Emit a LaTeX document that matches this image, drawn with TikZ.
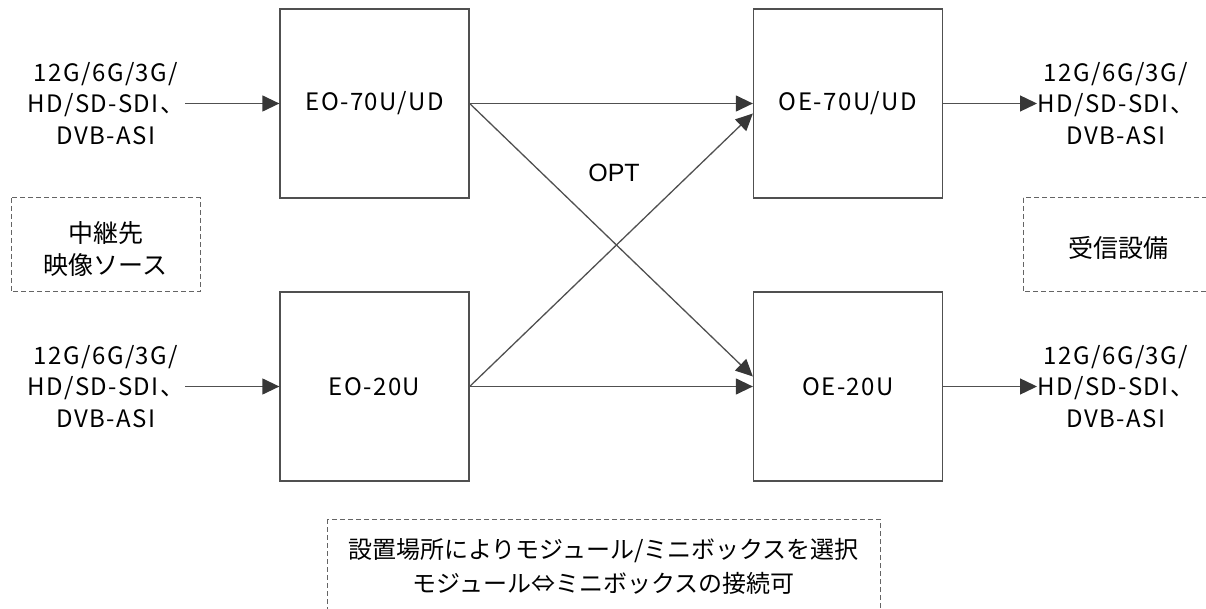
\documentclass[tikz,border=0pt]{standalone}
\usepackage{fontspec}
\setmainfont{Noto Sans CJK JP}
\newfontfamily\latf[LetterSpace=6]{Noto Sans CJK JP}
\newfontfamily\arialf{Liberation Sans}
\usetikzlibrary{arrows.meta,calc}
\definecolor{lc}{RGB}{80,80,80}
\definecolor{ac}{RGB}{55,55,55}
\definecolor{dc}{RGB}{100,100,100}
\tikzset{
 unitbox/.style={draw=lc, line width=1.3pt, minimum width=189pt, minimum height=189pt, inner sep=0pt, font=\latf\fontsize{24}{31.5}\selectfont},
 lbl/.style={align=center, inner sep=0pt, font=\latf\fontsize{24}{31.5}\selectfont},
 jlbl/.style={align=center, inner sep=0pt, font=\fontsize{25}{32}\selectfont},
 dbox/.style={draw=dc, line width=1pt, dash pattern=on 5pt off 3pt},
 arr/.style={draw=lc, line width=1.3pt, -{Triangle[length=17pt,width=16pt,color=ac]}}
}
\begin{document}
\begin{tikzpicture}[x=1pt,y=-1pt]
\useasboundingbox (0,0) rectangle (1206,609);
% units
\node[unitbox] (eo1) at (374.5,103.5) {EO-70U/UD};
\node[unitbox] (eo2) at (374.5,386.5) {EO-20U};
\node[unitbox] (oe1) at (848,103.5) {OE-70U/UD};
\node[unitbox] (oe2) at (848,386.5) {OE-20U};
% signal labels
\node[lbl] (in1) at (106,103.5) {12G/6G/3G/\\HD/SD-SDI、\\DVB-ASI};
\node[lbl] (in2) at (106,386.5) {12G/6G/3G/\\HD/SD-SDI、\\DVB-ASI};
\node[lbl] (out1) at (1116,103.5) {12G/6G/3G/\\HD/SD-SDI、\\DVB-ASI};
\node[lbl] (out2) at (1116,386.5) {12G/6G/3G/\\HD/SD-SDI、\\DVB-ASI};
\coordinate (i1) at (185,103.5);
\coordinate (i2) at (185,386.5);
\coordinate (o1) at (1037,103.5);
\coordinate (o2) at (1037,386.5);
% arrows
\draw[arr] (i1) -- (eo1.west);
\draw[arr] (i2) -- (eo2.west);
\draw[arr] (oe1.east) -- (o1);
\draw[arr] (oe2.east) -- (o2);
\draw[arr] (eo1.east) -- (oe1.west);
\draw[arr] (eo2.east) -- (oe2.west);
\draw[arr] (eo1.east) -- ($(oe2.west)+(0,-10)$);
\draw[arr] (eo2.east) -- ($(oe1.west)+(0,10)$);
\node[inner sep=0pt, font=\arialf\fontsize{25}{30}\selectfont] (opt) at (614,173) {OPT};
% dashed boxes
\draw[dbox] (11,198) rectangle (200,292);
\node[jlbl] (src) at (105.5,249) {中継先\\映像ソース};
\draw[dbox] (1023,198) rectangle (1213,292);
\node[jlbl] (rcv) at (1118,248) {受信設備};
\draw[dbox] (327,519) rectangle (880,615);
\node[jlbl, font=\fontsize{24}{34}\selectfont] (note) at (603.5,566) {設置場所によりモジュール/ミニボックスを選択\\モジュール⇔ミニボックスの接続可};
\end{tikzpicture}
\end{document}
